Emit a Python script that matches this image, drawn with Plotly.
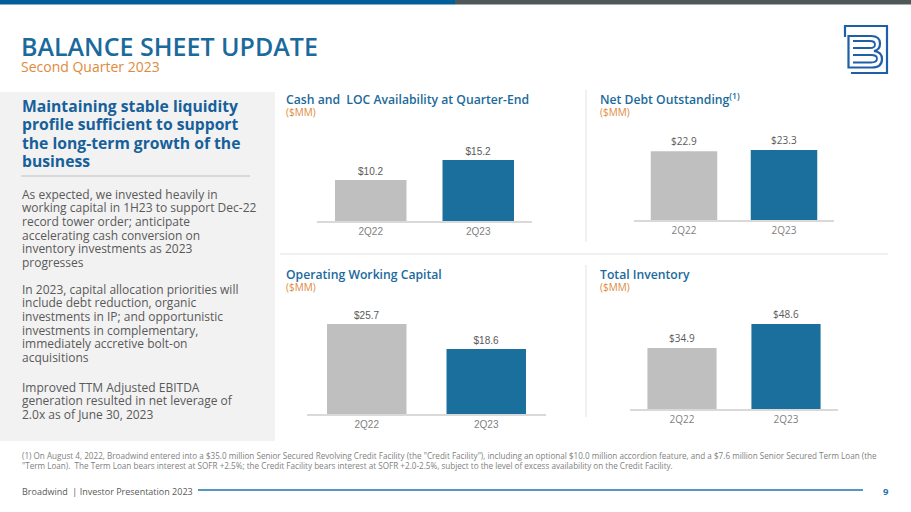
import plotly.graph_objects as go

W, H = 911, 512

# ---------------- data ----------------
categories = ["2Q22", "2Q23"]
cash_loc = [10.2, 15.2]
net_debt = [22.9, 23.3]
op_wc = [25.7, 18.6]
inventory = [34.9, 48.6]

chart_titles = [
    "Cash and  LOC Availability at Quarter-End",
    "Net Debt Outstanding<sup>(1)</sup>",
    "Operating Working Capital",
    "Total Inventory",
]
unit_label = "($MM)"

heading_lines = [
    "Maintaining stable liquidity",
    "profile sufficient to support",
    "the long-term growth of the",
    "business",
]
body_paragraphs = [
    ["As expected, we invested heavily in",
     "working capital in 1H23 to support Dec-22",
     "record tower order; anticipate",
     "accelerating cash conversion on",
     "inventory investments as 2023",
     "progresses"],
    ["In 2023, capital allocation priorities will",
     "include debt reduction, organic",
     "investments in IP; and opportunistic",
     "investments in complementary,",
     "immediately accretive bolt-on",
     "acquisitions"],
    ["Improved TTM Adjusted EBITDA",
     "generation resulted in net leverage of",
     "2.0x as of June 30, 2023"],
]
footnote_lines = [
    '(1) On August 4, 2022, Broadwind entered into a $35.0 million Senior Secured Revolving Credit Facility (the "Credit Facility"), including an optional $10.0 million accordion feature, and a $7.6 million Senior Secured Term Loan (the',
    '"Term Loan).  The Term Loan bears interest at SOFR +2.5%; the Credit Facility bears interest at SOFR +2.0-2.5%, subject to the level of excess availability on the Credit Facility.',
]

# ---------------- style ----------------
BLUE = "#1b6f9c"
GRAY_BAR = "#bfbfbf"
TITLE_BLUE = "#1b6a9c"
ORANGE = "#e08a3c"
TEXT_GRAY = "#595959"
FONT = "Open Sans"


def X(px):
    return px / W


def Y(py):
    return 1 - py / H


fig = go.Figure()

# chart placement in pixels: (values, x0, x1, baseline, px_per_unit, top, font)
charts = [
    (cash_loc, 317, 532, 221, 4.015, 128, "Liberation Sans"),
    (net_debt, 634, 834, 220, 3.0, 128, FONT),
    (op_wc, 307, 546, 414, 3.5, 300, "Liberation Sans"),
    (inventory, 630, 838, 409, 1.75, 300, FONT),
]

layout_axes = {}
for i, (vals, x0, x1, base, ppu, top, vfont) in enumerate(charts, start=1):
    xa = "x" if i == 1 else f"x{i}"
    ya = "y" if i == 1 else f"y{i}"
    fig.add_trace(go.Bar(
        x=categories, y=vals, xaxis=xa, yaxis=ya,
        marker=dict(color=[GRAY_BAR, BLUE], line=dict(width=0)),
        text=[f"${v:.1f}" for v in vals], textposition="outside",
        textfont=dict(family=vfont, size=10, color=TEXT_GRAY),
        cliponaxis=False, showlegend=False, hoverinfo="skip",
    ))
    kx = "xaxis" if i == 1 else f"xaxis{i}"
    ky = "yaxis" if i == 1 else f"yaxis{i}"
    layout_axes[kx] = dict(
        domain=[X(x0), X(x1)], anchor=ya, showline=True, linecolor="#d9d9d9",
        linewidth=2, showgrid=False, zeroline=False, ticks="",
        tickfont=dict(family=vfont, size=10, color="#7f7f7f"), fixedrange=True,
    )
    layout_axes[ky] = dict(
        domain=[Y(base), Y(top)], anchor=xa, range=[0, (base - top) / ppu],
        visible=False, fixedrange=True,
    )

shapes = []
annotations = []

# top bars
shapes.append(dict(type="rect", xref="paper", yref="paper", x0=0, x1=X(455), y0=Y(4.5), y1=1,
                   fillcolor="#005f99", line=dict(width=0), layer="below"))
shapes.append(dict(type="rect", xref="paper", yref="paper", x0=X(455), x1=1, y0=Y(4.5), y1=1,
                   fillcolor="#4f5859", line=dict(width=0), layer="below"))

# left grey panel
shapes.append(dict(type="rect", xref="paper", yref="paper", x0=0, x1=X(275), y0=Y(441), y1=Y(92),
                   fillcolor="#f2f2f2", line=dict(width=0), layer="below"))
shapes.append(dict(type="line", xref="paper", yref="paper", x0=X(21), x1=X(250), y0=Y(176), y1=Y(176),
                   line=dict(color="#d0d0d0", width=1.5)))

# separators
sep = "#e3e3e3"
shapes.append(dict(type="line", xref="paper", yref="paper", x0=X(586), x1=X(586), y0=Y(90), y1=Y(242),
                   line=dict(color=sep, width=1)))
shapes.append(dict(type="line", xref="paper", yref="paper", x0=X(586), x1=X(586), y0=Y(265), y1=Y(417),
                   line=dict(color=sep, width=1)))
shapes.append(dict(type="line", xref="paper", yref="paper", x0=X(280), x1=X(888), y0=Y(254), y1=Y(254),
                   line=dict(color=sep, width=1)))

# footer line
shapes.append(dict(type="line", xref="paper", yref="paper", x0=X(198), x1=X(863), y0=Y(490), y1=Y(490),
                   line=dict(color="#1f72b0", width=1.5)))


# logo
def path(cmds):
    out = []
    for c in cmds:
        if isinstance(c, str):
            out.append(c)
        else:
            out.append(f"{X(c[0]):.5f},{Y(c[1]):.5f}")
    return " ".join(out)


LOGO = "#1f5fa8"
shapes.append(dict(type="path", xref="paper", yref="paper",
                   path=path(["M", (845, 37), "L", (845, 26), "L", (887, 26), "L", (887, 73), "L", (851, 73)]),
                   line=dict(color=LOGO, width=2.2)))
shapes.append(dict(type="path", xref="paper", yref="paper",
                   path=path(["M", (848.5, 36), "L", (871, 36), "Q", (880, 36), (880, 43.5), "Q", (880, 50), (874, 51),
                              "Q", (882, 52), (882, 59), "Q", (882, 67.5), (872, 67.5), "L", (848.5, 67.5), "Z"]),
                   line=dict(color=LOGO, width=2.2)))
shapes.append(dict(type="path", xref="paper", yref="paper",
                   path=path(["M", (853, 41), "L", (870, 41), "Q", (875, 41), (875, 44.5), "Q", (875, 48), (870, 48),
                              "L", (853, 48), "M", (853, 55), "L", (871, 55), "Q", (877, 55), (877, 58.5),
                              "Q", (877, 62.5), (871, 62.5), "L", (853, 62.5)]),
                   line=dict(color=LOGO, width=1.8)))


def txt(s, px, py, size, color, weight=400, family=FONT, xanchor="left"):
    annotations.append(dict(text=s, x=X(px), y=Y(py), xref="paper", yref="paper", showarrow=False,
                            xanchor=xanchor, yanchor="middle", align="left",
                            font=dict(family=family, size=size, color=color, weight=weight)))


# title
txt("BALANCE SHEET UPDATE", 19, 45.5, 25, TITLE_BLUE, weight=600)
txt("Second Quarter 2023", 19, 66.5, 14, ORANGE)

# heading
for k, line in enumerate(heading_lines):
    txt(line, 20, 106 + k * 18.3, 15.7, "#17609a", weight=700)

# body
starts = [194, 289, 387]
for para, st in zip(body_paragraphs, starts):
    for k, line in enumerate(para):
        txt(line, 20, st + k * 13.7, 12, TEXT_GRAY)

# chart titles
title_pos = [(284, 99), (598, 99), (284, 274), (598, 274)]
for t, (px, py) in zip(chart_titles, title_pos):
    txt(t, px, py, 12.2, TITLE_BLUE, weight=600)
    txt(unit_label, px, py + 13, 10, ORANGE)

# footnote
txt(footnote_lines[0], 20, 455, 8.15, "#7f7f7f")
txt(footnote_lines[1], 20, 465, 8.15, "#7f7f7f")

# footer
txt("Broadwind  | Investor Presentation 2023", 20, 491, 9, TEXT_GRAY)
txt("9", 886, 491, 9.5, "#1f72b0", weight=700, xanchor="center")

fig.update_layout(
    width=W, height=H, margin=dict(l=0, r=0, t=0, b=0),
    paper_bgcolor="white", plot_bgcolor="rgba(0,0,0,0)",
    bargap=0.335, shapes=shapes, annotations=annotations,
    font=dict(family=FONT), **layout_axes,
)

fig.write_html("out.html", config={"displayModeBar": False},
               post_script="document.body.style.margin='0';document.body.style.overflow='hidden';")
